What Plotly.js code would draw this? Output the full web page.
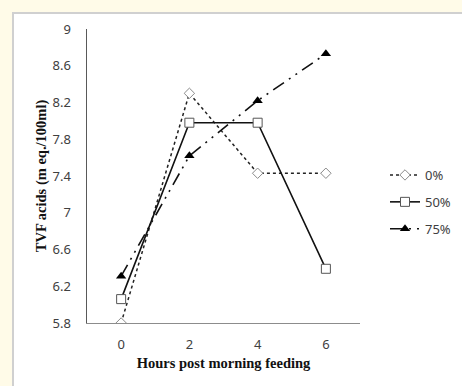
<!DOCTYPE html>
<html>
<head>
<meta charset="utf-8">
<script src="https://cdn.plot.ly/plotly-3.0.1.min.js"></script>
<style>
  html, body { margin: 0; padding: 0; background: #fffbe8; }
  #chart { width: 462px; height: 386px; }
</style>
</head>
<body>
<div id="chart"></div>
<script>
const hours = [0, 2, 4, 6];
const seriesNames = ['0%', '50%', '75%'];
const values0 = [5.8, 8.3, 7.43, 7.43];
const values50 = [6.06, 7.98, 7.98, 6.39];
const values75 = [6.31, 7.62, 8.22, 8.73];
const yTicks = [5.8, 6.2, 6.6, 7, 7.4, 7.8, 8.2, 8.6, 9];
const yTickText = ['5.8', '6.2', '6.6', '7', '7.4', '7.8', '8.2', '8.6', '9'];
const xTicks = [0, 2, 4, 6];

const traces = [
  {
    x: hours, y: values0, name: seriesNames[0], legendgroup: 'g0', type: 'scatter', mode: 'lines+markers',
    line: { color: '#222222', width: 1.5, dash: 'dot' },
    marker: { symbol: 'diamond', size: 8, color: '#ffffff', line: { color: '#8a8a8a', width: 1 } }
  },
  {
    x: hours, y: values50, name: seriesNames[1], legendgroup: 'g1', type: 'scatter', mode: 'lines+markers',
    line: { color: '#111111', width: 1.6 },
    marker: { symbol: 'square', size: 9, color: '#ffffff', line: { color: '#555555', width: 1 } }
  },
  {
    x: hours, y: values75, name: seriesNames[2], legendgroup: 'g2', type: 'scatter', mode: 'lines+markers',
    line: { color: '#111111', width: 1.6, dash: '13px,6px,2px,6px,2px,6px' },
    marker: { symbol: 'triangle-up', size: 9, color: '#000000', line: { color: '#000000', width: 0 } }
  }
];

const W = 462, H = 386;
const mL = 87, mR = 102, mT = 29, mB = 63;
const pw = W - mL - mR, ph = H - mT - mB;
function px2x(p) { return (p - mL) / pw; }
function px2y(p) { return (H - mB - p) / ph; }

const layout = {
  width: W, height: H,
  margin: { l: mL, r: mR, t: mT, b: mB, pad: 0, autoexpand: false },
  paper_bgcolor: '#fffbe8',
  plot_bgcolor: 'rgba(0,0,0,0)',
  showlegend: true,
  font: { family: '"Noto Sans", "Open Sans", sans-serif', color: '#404040', size: 13 },
  shapes: [
    {
      type: 'rect', xref: 'paper', yref: 'paper', layer: 'below',
      x0: px2x(13), x1: px2x(480), y0: px2y(400), y1: px2y(13),
      fillcolor: '#ffffff', line: { color: '#d0d0d0', width: 2 }
    }
  ],
  xaxis: {
    range: [-1, 7], tickvals: xTicks, ticktext: xTicks.map(String),
    showgrid: false, zeroline: false, showline: true, linecolor: '#8c8c8c', linewidth: 1,
    ticks: 'outside', ticklen: 9, tickcolor: 'rgba(0,0,0,0)',
    tickfont: { family: '"Noto Sans", sans-serif', size: 13, color: '#404040' },
    title: { text: 'Hours post morning feeding', standoff: 6,
      font: { family: '"Liberation Serif", "Times New Roman", serif', size: 14.5, color: '#111111', weight: 'bold' } },
    fixedrange: true
  },
  yaxis: {
    range: [5.8, 9], tickvals: yTicks, ticktext: yTickText,
    showgrid: false, zeroline: false, showline: true, linecolor: '#595959', linewidth: 1.5,
    ticks: 'outside', ticklen: 12, tickcolor: 'rgba(0,0,0,0)',
    tickfont: { family: '"Noto Sans", sans-serif', size: 13, color: '#404040' },
    title: { text: 'TVF acids (m eq./100ml)', standoff: 2,
      font: { family: '"Liberation Serif", "Times New Roman", serif', size: 14.5, color: '#111111', weight: 'bold' } },
    fixedrange: true
  },
  legend: {
    x: px2x(385), xanchor: 'left', y: px2y(160), yanchor: 'top',
    bgcolor: 'rgba(0,0,0,0)', borderwidth: 0,
    font: { family: '"Noto Sans", sans-serif', size: 13, color: '#404040' },
    tracegroupgap: 7, itemwidth: 30
  }
};

Plotly.newPlot('chart', traces, layout, { displayModeBar: false, staticPlot: true });
</script>
</body>
</html>
